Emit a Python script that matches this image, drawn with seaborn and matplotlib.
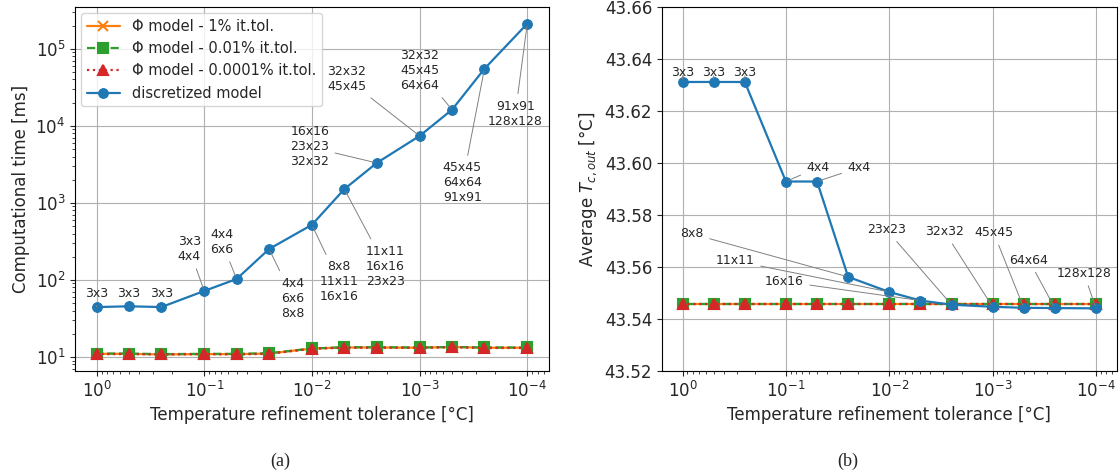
import numpy as np
import pandas as pd
import matplotlib
matplotlib.use("Agg")
import matplotlib.pyplot as plt
import seaborn as sns

# data
tol = [1, 0.5, 0.25, 0.1, 0.05, 0.025, 0.01, 0.005, 0.0025, 0.001, 0.0005, 0.00025, 0.0001]

time_disc = [44.5, 45.5, 44.5, 72, 103, 252, 520, 1510, 3300, 7400, 16200, 55000, 212000]
time_phi_1 = [11.0, 11.0, 10.8, 10.9, 10.9, 11.1, 12.9, 13.3, 13.3, 13.2, 13.5, 13.2, 13.2]
time_phi_001 = [11.1, 11.1, 10.9, 11.0, 11.0, 11.2, 12.9, 13.4, 13.4, 13.3, 13.5, 13.3, 13.3]
time_phi_00001 = [10.9, 10.9, 10.8, 10.9, 10.8, 11.0, 12.8, 13.2, 13.2, 13.2, 13.4, 13.1, 13.1]

temp_disc = [43.6312, 43.6312, 43.6312, 43.5929, 43.5929, 43.5562, 43.5504,
             43.5471, 43.5455, 43.5447, 43.5443, 43.5442, 43.5441]
temp_phi_1 = [43.5457] * 13
temp_phi_001 = [43.5457] * 13
temp_phi_00001 = [43.5457] * 13

grid_a = ["3x3", "3x3", "3x3", "3x3\n4x4", "4x4\n6x6", "4x4\n6x6\n8x8",
          "8x8\n11x11\n16x16", "11x11\n16x16\n23x23", "16x16\n23x23\n32x32",
          "32x32\n45x45", "32x32\n45x45\n64x64", "45x45\n64x64\n91x91",
          "91x91\n128x128"]
grid_b = ["3x3", "3x3", "3x3", "4x4", "4x4", "8x8", "11x11", "16x16", "23x23",
          "32x32", "45x45", "64x64", "128x128"]

# label offsets in pixels (dx, dy)
offs_a = [(0, 14), (0, 13), (0, 14), (-15, 42), (-15, 37), (24, -49), (27, -57),
          (41, -77), (-67, 16), (-73, 57), (-32, 39), (-22, -114), (-12, -90)]
offs_b = [(0, 9), (0, 9), (0, 9), (32, 14), (42, 14), (-156, 43), (-154, 31),
          (-136, 19), (-65, 75), (-48, 75), (-30, 75), (-26, 48), (-12, 35)]

sns.set_style("white")
plt.rcParams['font.family'] = ['DejaVu Sans']
plt.rcParams['mathtext.fontset'] = 'dejavusans'

fig = plt.figure(figsize=(11.2, 4.75), dpi=100)
ax1 = fig.add_axes([0.067, 0.219, 0.423, 0.766])
ax2 = fig.add_axes([0.591, 0.219, 0.406, 0.766])

series = [
    ("Φ model - 1% it.tol.", "#ff7f0e", "x", "-"),
    ("Φ model - 0.01% it.tol.", "#2ca02c", "s", "--"),
    ("Φ model - 0.0001% it.tol.", "#d62728", "^", ":"),
]


def draw(ax, phis, disc, labels, offs):
    for (lab, col, mk, ls), vals in zip(series, phis):
        df = pd.DataFrame({"tol": tol, "val": vals})
        sns.lineplot(data=df, x="tol", y="val", ax=ax, color=col, marker=mk,
                     linestyle=ls, markersize=7, linewidth=1.6, label=lab,
                     markeredgecolor=col, mew=1.5)
    df = pd.DataFrame({"tol": tol, "val": disc})
    sns.lineplot(data=df, x="tol", y="val", ax=ax, color="#1f77b4", marker="o",
                 markersize=7, linewidth=1.6, label="discretized model",
                 markeredgecolor="#1f77b4")
    for x, y, s, o in zip(tol, disc, labels, offs):
        ax.annotate(s, (x, y), xytext=o, textcoords="offset pixels",
                    ha="center", va="center", multialignment="center", fontsize=9,
                    arrowprops=dict(arrowstyle="-", color="gray", lw=0.7))
    ax.set_xscale("log")
    ax.invert_xaxis()
    ax.grid(True, which="major", color="#b0b0b0", lw=0.8)
    ax.tick_params(labelsize=12, direction="out", length=3.5, bottom=True, left=True)
    ax.tick_params(which="minor", length=2, bottom=True, left=True)
    for sp in ax.spines.values():
        sp.set_color("black")
        sp.set_linewidth(0.8)
    ax.set_xlabel("Temperature refinement tolerance [°C]", fontsize=12)


draw(ax1, [time_phi_1, time_phi_001, time_phi_00001], time_disc, grid_a, offs_a)
ax1.set_yscale("log")
ax1.set_ylabel("Computational time [ms]", fontsize=12)
ax1.legend(loc="upper left", fontsize=10.5, handlelength=2.3, borderaxespad=0.4)

draw(ax2, [temp_phi_1, temp_phi_001, temp_phi_00001], temp_disc, grid_b, offs_b)
ax2.set_ylim(43.52, 43.66)
ax2.set_yticks(np.arange(43.52, 43.661, 0.02))
ax2.yaxis.set_major_formatter(matplotlib.ticker.FormatStrFormatter("%.2f"))
ax2.set_ylabel("Average $T_{c,out}$ [°C]", fontsize=12)
ax2.get_legend().remove()

fig.text(0.25, 0.02, "(a)", family="Liberation Serif", fontsize=13, ha="center")
fig.text(0.757, 0.02, "(b)", family="Liberation Serif", fontsize=13, ha="center")

fig.savefig("out.png", dpi=100)
